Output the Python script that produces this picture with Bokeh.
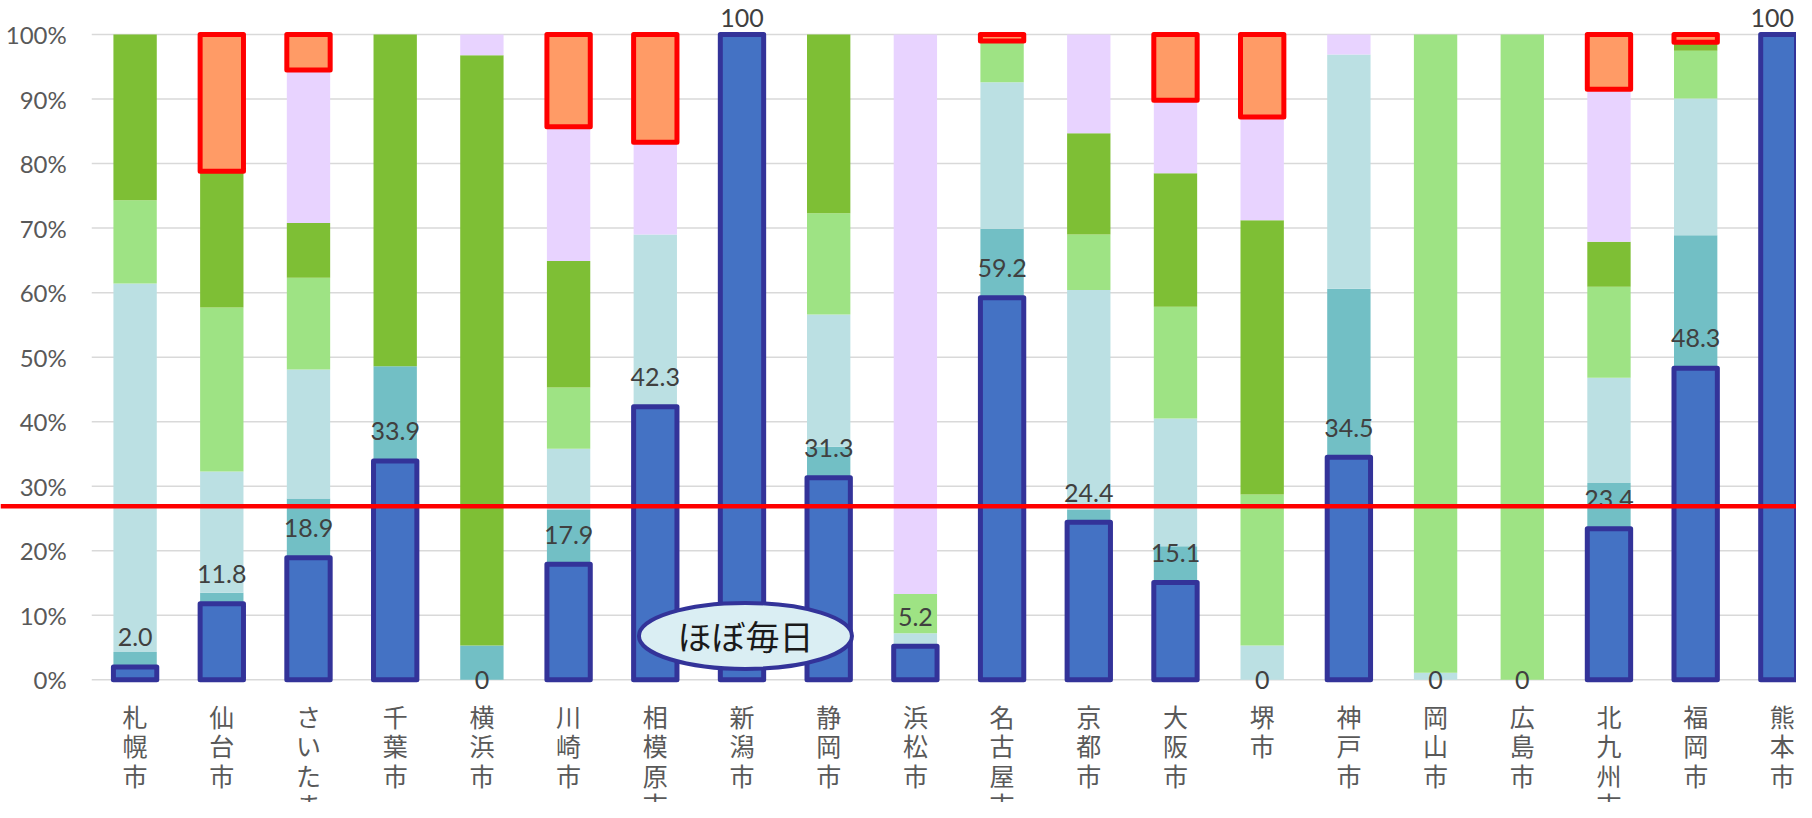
import numpy as np
from bokeh.plotting import figure
from bokeh.models import Range1d, FixedTicker, Span
from bokeh.core.properties import value
from bokeh.embed import file_html
from bokeh.resources import INLINE

# ---------------- data ----------------
cities = ["札幌市", "仙台市", "さいたま市", "千葉市", "横浜市", "川崎市", "相模原市",
          "新潟市", "静岡市", "浜松市", "名古屋市", "京都市", "大阪市", "堺市",
          "神戸市", "岡山市", "広島市", "北九州市", "福岡市", "熊本市"]

# stacked shares (%) bottom -> top
almost_daily = [2.0, 11.8, 18.9, 33.9, 0, 17.9, 42.3, 100, 31.3, 5.2,
                59.2, 24.4, 15.1, 0, 34.5, 0, 0, 23.4, 48.3, 100]
series_2 = [2.3, 1.7, 9.2, 14.7, 5.3, 8.5, 0, 0, 4.8, 0,
            10.7, 2.0, 5.6, 0, 26.1, 0, 0, 7.1, 20.6, 0]
series_3 = [57.1, 18.8, 20.0, 0, 0, 9.4, 26.7, 0, 20.5, 2.0,
            22.7, 34.0, 19.8, 5.3, 36.3, 1.1, 0, 16.3, 21.2, 0]
series_4 = [12.9, 25.4, 14.2, 0, 0, 9.5, 0, 0, 15.7, 6.1,
            6.4, 8.6, 17.3, 23.4, 0, 98.9, 100, 14.1, 7.4, 0]
series_5 = [25.7, 21.1, 8.5, 51.4, 91.5, 19.6, 0, 0, 27.7, 0,
            0, 15.7, 20.7, 42.5, 0, 0, 0, 7.0, 1.3, 0]
series_6 = [0, 0, 23.7, 0, 3.2, 20.8, 14.3, 0, 0, 86.7,
            0, 15.3, 11.3, 16.0, 3.1, 0, 0, 23.6, 0, 0]
series_7 = [0, 21.2, 5.5, 0, 0, 14.3, 16.7, 0, 0, 0,
            1.0, 0, 10.2, 12.8, 0, 0, 0, 8.5, 1.2, 0]

y_ticks = [0, 10, 20, 30, 40, 50, 60, 70, 80, 90, 100]
reference_line = 26.9
callout_text = "ほぼ毎日"
callout_city = "新潟市"

# ---------------- styles ----------------
fills = ["#4472C4", "#72BFC5", "#BBE0E3", "#9EE384", "#7EBF35", "#E8D3FF", "#FF9B66"]
lines = ["#333399", None, None, None, None, None, "#FF0000"]
line_w = [5, 0, 0, 0, 0, 0, 5]
draw_order = [1, 2, 3, 4, 5, 0, 6]

x_left, x_right = -1.5525, 19.163
p = figure(width=1796, height=802,
           x_range=Range1d(x_left, x_right), y_range=Range1d(-19.01, 105.27),
           output_backend="svg", toolbar_location=None, min_border=0,
           outline_line_color=None, background_fill_color="white",
           border_fill_color="white")
p.xgrid.visible = False
p.ygrid.visible = False

x = np.arange(len(cities))

# horizontal gridlines (start at the category area edge)
p.segment(x0=[-0.5] * len(y_ticks), y0=y_ticks, x1=[x_right] * len(y_ticks), y1=y_ticks,
          line_color="#D9D9D9", line_width=1.5)

stack = np.vstack([almost_daily, series_2, series_3, series_4, series_5, series_6, series_7]).astype(float)
tops = np.cumsum(stack, axis=0)
bottoms = tops - stack

for k in draw_order:
    m = stack[k] > 0
    kw = dict(fill_color=fills[k], line_color=lines[k])
    if lines[k] is not None:
        kw["line_width"] = line_w[k]
        kw["line_join"] = "round"
    p.vbar(x=x[m], bottom=bottoms[k][m], top=tops[k][m], width=0.5, **kw)

# data labels for the bottom series (kept inside the frame)
blue = np.array(almost_daily, dtype=float)
lab_y = np.where(blue == 0, 0, np.minimum(blue + 4.6, 102.6))
lab_x = np.minimum(x.astype(float), x_right - 0.28)
lab_txt = ["0" if v == 0 else ("100" if v == 100 else f"{v:.1f}") for v in blue]
p.text(x=lab_x, y=lab_y, text=lab_txt, text_align="center", text_baseline="middle",
       text_font=value("Lato"), text_font_size="25px", text_color="#404040")

# callout ellipse
cx = cities.index(callout_city) + 0.04
p.ellipse(x=[cx], y=[6.8], width=213, height=66, width_units="screen", height_units="screen",
          fill_color="#DAEEF3", line_color="#333399", line_width=4)
p.text(x=[cx], y=[6.8], text=[callout_text], text_align="center", text_baseline="middle",
       text_font=value("Noto Sans CJK JP"), text_font_size="34px", text_color="#1A1A1A")

# red reference line
p.add_layout(Span(location=reference_line, dimension="width", line_color="#FF0000", line_width=4.5))

# y axis drawn inside the frame
p.yaxis.fixed_location = -0.5
p.yaxis.ticker = FixedTicker(ticks=y_ticks)
p.yaxis.major_label_overrides = {t: f"{t}%" for t in y_ticks}
p.yaxis.axis_line_color = None
p.yaxis.major_tick_line_color = None
p.yaxis.minor_tick_line_color = None
p.yaxis.major_tick_out = 0
p.yaxis.major_tick_in = 0
p.yaxis.major_label_standoff = 25
p.yaxis.major_label_text_font = "Lato"
p.yaxis.major_label_text_font_size = "24px"
p.yaxis.major_label_text_color = "#595959"

# x axis with vertical (stacked) city names
p.xaxis.fixed_location = 0
p.xaxis.ticker = FixedTicker(ticks=list(range(len(cities))))
p.xaxis.major_label_overrides = {i: "\n".join(c) for i, c in enumerate(cities)}
p.xaxis.axis_line_color = None
p.xaxis.major_tick_line_color = None
p.xaxis.minor_tick_line_color = None
p.xaxis.major_tick_out = 0
p.xaxis.major_tick_in = 0
p.xaxis.major_label_standoff = 18
p.xaxis.major_label_text_font = "Noto Sans CJK JP"
p.xaxis.major_label_text_font_size = "25px"
p.xaxis.major_label_text_line_height = 0.82
p.xaxis.major_label_text_color = "#595959"

open("out.html", "w").write(file_html(p, INLINE))
